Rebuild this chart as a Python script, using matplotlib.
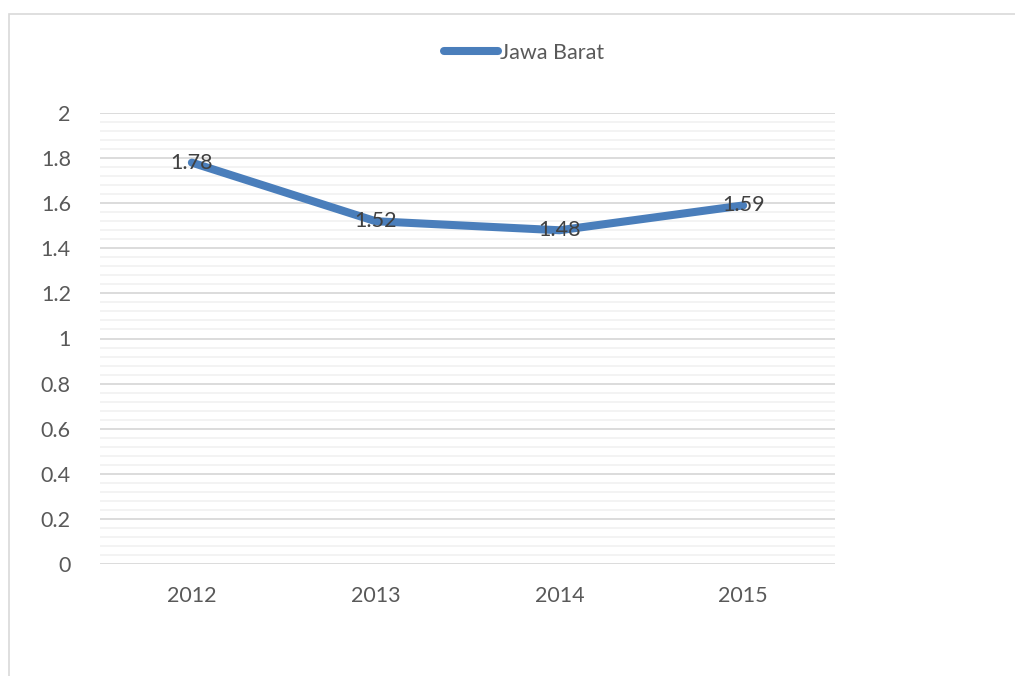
import matplotlib.pyplot as plt
from matplotlib.patches import Rectangle
from matplotlib.ticker import MultipleLocator

years = ["2012", "2013", "2014", "2015"]
jawa_barat = [1.78, 1.52, 1.48, 1.59]

plt.rcParams['font.family'] = ['Lato', 'DejaVu Sans']

fig = plt.figure(figsize=(10.15, 6.76), dpi=100)
fig.patches.append(Rectangle((9 / 1015, -0.1), 1.2, 1.1 - 14 / 676, transform=fig.transFigure,
                             fill=False, edgecolor='#D9D9D9', linewidth=1.2))
ax = fig.add_axes([100 / 1015, 1 - 564 / 676, 735 / 1015, 451 / 676])

xs = [i + 0.5 for i in range(len(years))]
line, = ax.plot(xs, jawa_barat, color='#4A7EBB', linewidth=5.8, solid_capstyle='round',
                label='Jawa Barat', zorder=3)
for x, v in zip(xs, jawa_barat):
    ax.text(x, v, f"{v:.2f}", ha='center', va='center', fontsize=15.5, color='#404040', zorder=4)

ax.set_xlim(0, 4)
ax.set_ylim(0, 2)
ax.yaxis.set_minor_locator(MultipleLocator(0.04))
ax.set_yticks([0, 0.2, 0.4, 0.6, 0.8, 1, 1.2, 1.4, 1.6, 1.8, 2])
ax.set_yticklabels(["0", "0.2", "0.4", "0.6", "0.8", "1", "1.2", "1.4", "1.6", "1.8", "2"])
ax.set_xticks(xs)
ax.set_xticklabels(years)
ax.grid(which='major', axis='y', color='#D9D9D9', linewidth=1.3)
ax.grid(which='minor', axis='y', color='#F2F2F2', linewidth=1.3)
ax.tick_params(which='both', length=0, labelsize=15.5, labelcolor='#595959')
ax.tick_params(axis='y', pad=21)
ax.tick_params(axis='x', pad=16)
for s in ax.spines.values():
    s.set_visible(False)
ax.set_axisbelow(True)

fig.legend(handles=[line], loc='center', bbox_to_anchor=(524 / 1015, 1 - 53 / 676), frameon=False,
           fontsize=15.5, labelcolor='#595959', handlelength=2.5, handletextpad=0.1)

plt.savefig("out.png", dpi=100)
